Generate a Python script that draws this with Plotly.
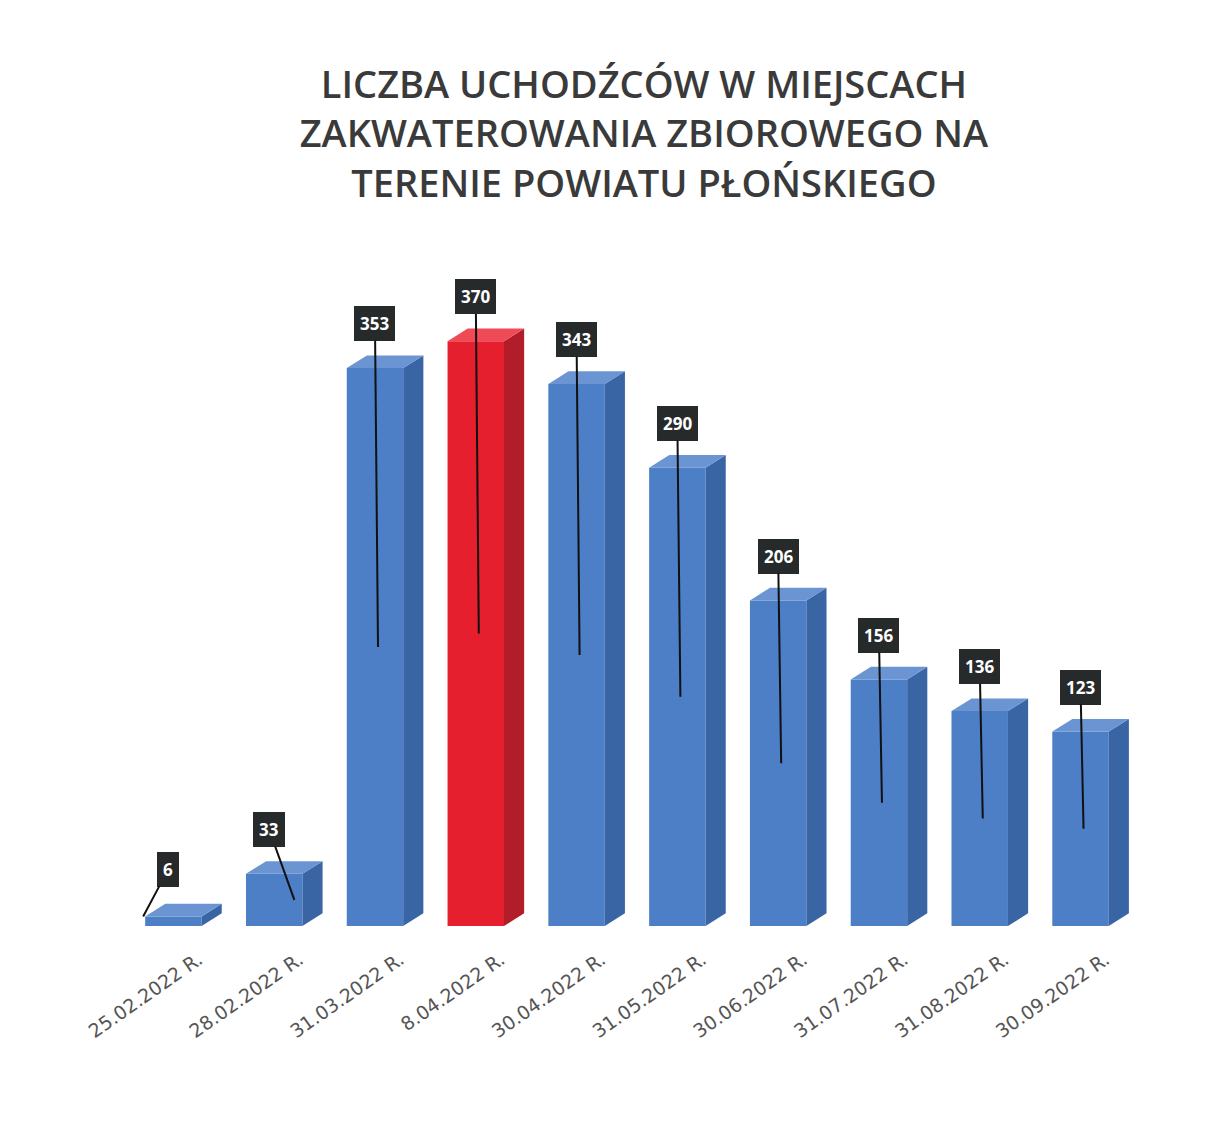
import plotly.graph_objects as go

categories = ["25.02.2022 R.", "28.02.2022 R.", "31.03.2022 R.", "8.04.2022 R.", "30.04.2022 R.",
              "31.05.2022 R.", "30.06.2022 R.", "31.07.2022 R.", "31.08.2022 R.", "30.09.2022 R."]
values = [6, 33, 353, 370, 343, 290, 206, 156, 136, 123]
highlight = [False, False, False, True, False, False, False, False, False, False]

BLUE_FRONT = "#4c7fc6"
BLUE_SIDE = "#3a65a5"
BLUE_TOP = "#6a94d2"
RED_FRONT = "#e51f2d"
RED_SIDE = "#b11e29"
RED_TOP = "#ef4a55"

w = 0.56
dx = 0.2
dy = 8

fig = go.Figure()
xs = list(range(len(values)))

# side and top faces (pseudo-3D)
for i, v in zip(xs, values):
    red = highlight[i]
    side = RED_SIDE if red else BLUE_SIDE
    top = RED_TOP if red else BLUE_TOP
    xr = i + w / 2
    xl = i - w / 2
    fig.add_trace(go.Scatter(x=[xr, xr + dx, xr + dx, xr, xr], y=[0, dy, v + dy, v, 0],
                             fill="toself", fillcolor=side, mode="lines", line=dict(width=0),
                             hoverinfo="skip", showlegend=False))
    fig.add_trace(go.Scatter(x=[xl, xl + dx, xr + dx, xr, xl], y=[v, v + dy, v + dy, v, v],
                             fill="toself", fillcolor=top, mode="lines", line=dict(width=0),
                             hoverinfo="skip", showlegend=False))

fig.add_trace(go.Bar(x=xs, y=values, width=w,
                     marker=dict(color=[RED_FRONT if h else BLUE_FRONT for h in highlight], line=dict(width=0)),
                     showlegend=False, hoverinfo="x+y"))

# data labels with leader lines
for i, v in zip(xs, values):
    if i == 0:
        ax, ay, tx, ty = i - 0.05, 36, i - 0.3, v
    elif i == 1:
        ax, ay, tx, ty = i - 0.05, v + 28, i + 0.2, v / 2
    else:
        ax, ay, tx, ty = i, v + 28, i + 0.03, v / 2
    fig.add_annotation(x=tx, y=ty, ax=ax, ay=ay, axref="x", ayref="y", xref="x", yref="y",
                       text="<b>%d</b>" % v, showarrow=True, arrowhead=0, arrowwidth=2,
                       arrowcolor="#111111", bgcolor="#262a2b", bordercolor="#262a2b",
                       borderpad=5, font=dict(color="white", size=17, family="Open Sans"))

fig.update_layout(
    width=1223, height=1123,
    paper_bgcolor="white", plot_bgcolor="white",
    margin=dict(l=115, r=90, t=270, b=205),
    title=dict(text="LICZBA UCHODŹCÓW W MIEJSCACH<br>ZAKWATEROWANIA ZBIOROWEGO NA<br>TERENIE POWIATU PŁOŃSKIEGO",
               x=0.52, xanchor="center", y=0.92, yanchor="top",
               font=dict(family="Open Sans", size=38, color="#3a3a3a", weight=600)),
    bargap=0.4,
    xaxis=dict(tickmode="array", tickvals=xs, ticktext=categories, tickangle=-35,
               tickfont=dict(family="DejaVu Sans", size=19, color="#555555"),
               ticklabelstandoff=18, ticklabelshift=25,
               showgrid=False, zeroline=False, showline=False, range=[-0.5, 9.6]),
    yaxis=dict(range=[0, 410], visible=False),
)

fig.write_html("out.html")
